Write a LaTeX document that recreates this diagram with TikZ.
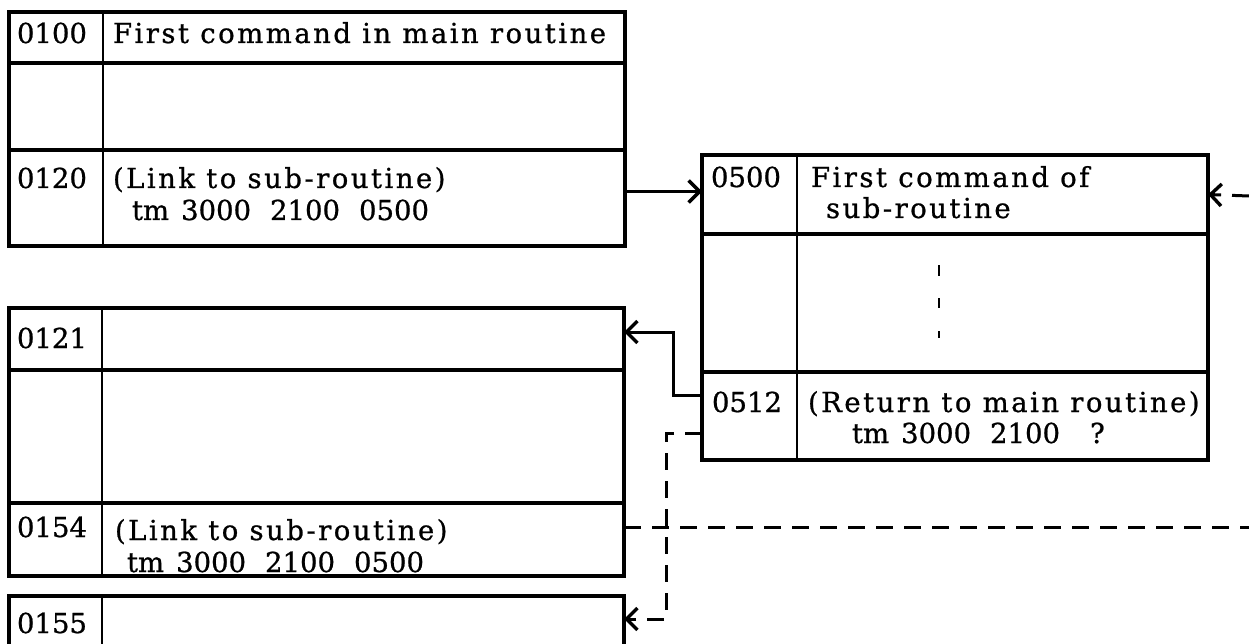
\documentclass[tikz,border=0pt]{standalone}
\usepackage{fontspec}
\setmainfont{DejaVu Serif}[LetterSpace=9, FakeBold=0.8]
\newfontfamily\numfont{DejaVu Serif}[FakeBold=0.8]
\usetikzlibrary{arrows.meta}
\tikzset{
  cell/.style={draw, line width=3.4pt, inner sep=0pt, outer sep=0pt, anchor=north west},
  coldiv/.style={line width=2.8pt},
  txt/.style={anchor=base west, inner sep=0pt, outer sep=0pt, font=\fontsize{27.5}{30}\selectfont},
  addr/.style={txt, font=\fontsize{27.5}{30}\selectfont\numfont},
  conn/.style={line width=3pt},
  dsh/.style={conn, dash pattern=on 17pt off 11pt},
  barbtip/.style={-{Straight Barb[length=11pt,width=22pt,line width=3.4pt]}},
}
\begin{document}
\begin{tikzpicture}[x=1pt,y=-1pt]
\useasboundingbox (0,0) rectangle (1249,644);
\fill[white] (0,0) rectangle (1249,644);
\clip (0,0) rectangle (1249,644);
% Box A
\node[cell, minimum width=616pt, minimum height=51pt] (A1) at (9,12) {};
\node[cell, minimum width=616pt, minimum height=87pt] (A2) at (9,63) {};
\node[cell, minimum width=616pt, minimum height=96pt] (A3) at (9,150) {};
\draw[coldiv] (103,12) -- (103,246);
% Box B
\node[cell, minimum width=506pt, minimum height=79pt] (B1) at (702,155) {};
\node[cell, minimum width=506pt, minimum height=138pt] (B2) at (702,234) {};
\node[cell, minimum width=506pt, minimum height=88pt] (B3) at (702,372) {};
\draw[coldiv] (797,155) -- (797,460);
% Box C
\node[cell, minimum width=615pt, minimum height=62pt] (C1) at (9,308) {};
\node[cell, minimum width=615pt, minimum height=133pt] (C2) at (9,370) {};
\node[cell, minimum width=615pt, minimum height=73pt] (C3) at (9,503) {};
\draw[coldiv] (102,308) -- (102,576);
% Box D
\node[cell, minimum width=615pt, minimum height=90pt] (D1) at (9,596) {};
\draw[coldiv] (102,596) -- (102,690);
% texts A
\node[addr] (ta1) at (17,43) {0100};
\node[txt] (ta2) at (113,43) {First command in main routine};
\node[addr] (ta3) at (17,188) {0120};
\node[txt] (ta4) at (113,188) {(Link to sub-routine)};
\node[addr] (ta5) at (132,220) {tm\hspace{12pt}3000\hspace{19pt}2100\hspace{19pt}0500};
% texts B
\node[addr] (tb1) at (711,187) {0500};
\node[txt] (tb2) at (811,187) {First command of};
\node[txt] (tb3) at (826,218) {sub-routine};
\node[addr] (tb4) at (712,412) {0512};
\node[txt] (tb5) at (808,412) {(Return to main routine)};
\node[addr] (tb6) at (852,443) {tm\hspace{12pt}3000\hspace{19pt}2100\hspace{30pt}?};
\draw[line width=2.8pt] (939,265)--(939,276) (939,298)--(939,308) (939,331)--(939,338);
% texts C, D
\node[addr] (tc1) at (17,348) {0121};
\node[addr] (tc2) at (17,537) {0154};
\node[txt] (tc3) at (115,540) {(Link to sub-routine)};
\node[addr] (tc4) at (127,572) {tm\hspace{12pt}3000\hspace{19pt}2100\hspace{19pt}0500};
\node[addr] (td1) at (17,633) {0155};
% connectors
\coordinate (edgeA) at (1249,527);
\coordinate (edgeB) at (1249,196);
\draw[conn, barbtip] ([yshift=3pt]B1.west -| A3.east) -- ([yshift=3pt]B1.west);
\draw[conn, barbtip] ([yshift=21pt]B3.west) -| ([xshift=49pt,yshift=7pt]C1.east) -- ([yshift=7pt]C1.east);
\draw[dsh, barbtip] ([yshift=-17pt]B3.west) -| ([xshift=42pt,yshift=22pt]D1.east) -- ([yshift=22pt]D1.east);
\draw[dsh] ([yshift=12.5pt]C3.east) -- (edgeA);
\draw[dsh, barbtip] (edgeB) -- (B1.east);
\end{tikzpicture}
\end{document}
